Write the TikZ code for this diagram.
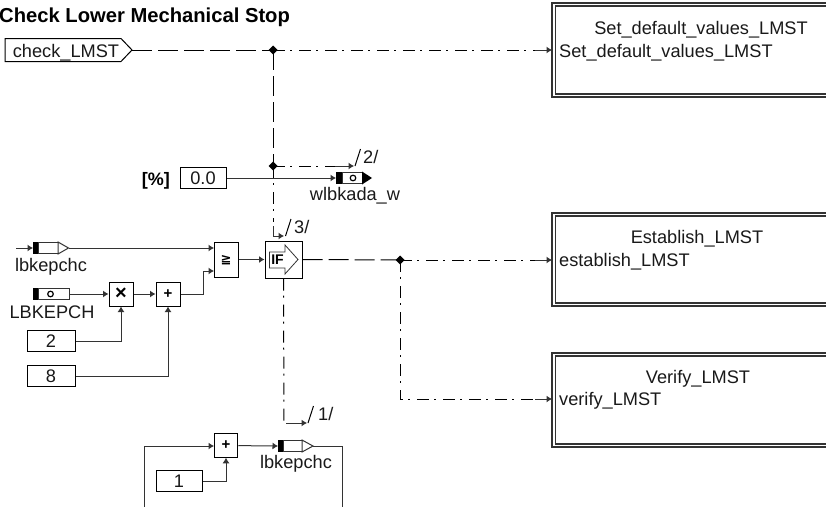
\documentclass[tikz,border=0pt]{standalone}
\usepackage{fontspec}
\setmainfont{Liberation Sans}
\newfontfamily\symfont{DejaVu Sans}
\usetikzlibrary{arrows.meta}
\definecolor{ln}{gray}{0.2}
\tikzset{
 x=1pt,y=-1pt,
 wire/.style={draw=ln,line width=1pt},
 dd/.style={draw=black,line width=1pt,dash pattern=on 12pt off 5pt on 2pt off 7pt},
 ddl/.style={draw=black,line width=1pt,dash pattern=on 20pt off 6pt},
 arr/.style={-{Latex[length=5.5pt,width=7pt]}},
 lbl/.style={inner sep=0pt,font=\fontsize{18.2}{18}\selectfont,text=black!90},
 bld/.style={inner sep=0pt,font=\fontsize{18}{18}\selectfont\bfseries},
 blockbox/.style={draw=black,line width=1pt,fill=white,inner sep=0pt},
 frameo/.style={draw=ln,line width=1.1pt},
}
\newcommand{\jct}[1]{\fill[black] (#1) ++(-4.5,0) -- ++(4.5,-4.5) -- ++(4.5,4.5) -- ++(-4.5,4.5) -- cycle;}
\newcommand{\flagr}[1]{\draw[line width=1pt,draw=black] (#1) -- ++(5.5,-17);}
\begin{document}
\begin{tikzpicture}
\useasboundingbox (0,0) rectangle (826,506);
\clip (0,0) rectangle (826,506);
% title
\node[anchor=base west,inner sep=0pt,font=\fontsize{20.2}{20}\selectfont\bfseries] (title) at (-1,22) {Check Lower Mechanical Stop};
% right frames
\foreach \n/\t/\b in {a/3/97,b/213/306,c/353/447}{
 \draw[frameo] (840,\t) -- (552,\t) -- (552,\b) -- (840,\b);
 \draw[frameo] (840,\t+3) -- (555.5,\t+3) -- (555.5,\b-3) -- (840,\b-3);
}
\coordinate (ina) at (552,50);
\coordinate (inb) at (552,260);
\coordinate (inc) at (552,399);
\node[lbl,anchor=base] (ta) at (701,34) {Set\_default\_values\_LMST};
\node[lbl,anchor=base west] (tb) at (559,57) {Set\_default\_values\_LMST};
\node[lbl,anchor=base] (tc) at (697,243) {Establish\_LMST};
\node[lbl,anchor=base west] (td) at (559,266) {establish\_LMST};
\node[lbl,anchor=base] (te) at (698,383) {Verify\_LMST};
\node[lbl,anchor=base west] (tf) at (559,405) {verify\_LMST};
% check_LMST
\draw[blockbox] (5,38.5) -- (121,38.5) -- (132,50) -- (121,61.5) -- (5,61.5) -- cycle;
\node[lbl,anchor=base] (chk) at (66,57) {check\_LMST};
\coordinate (cko) at (132,50);
\coordinate (j1) at (273,50);
\coordinate (j2) at (273,166);
\coordinate (j3) at (400,260);
\draw[ddl] (cko) -- (j1);
\draw[dd] (j1) -- (535,50);
\draw[wire,arr] (535,50) -- (ina);
\draw[ddl] (j1) -- (j2);
\coordinate (f2) at (354,166);
\draw[dd] (j2) -- (335,166);
\draw[wire,arr] (335,166) -- (f2);
\coordinate (f3) at (284,236);
\draw[dd] (j2) -- (273,222);
\draw[wire,arr] (273,226) -- (273,236) -- (f3);
\jct{j1}\jct{j2}
\flagr{355,166}
\node[lbl,anchor=base west] (n2) at (363,163) {2/};
\flagr{285.5,236}
\node[lbl,anchor=base west] (n3) at (294,233) {3/};
% const 0.0
\node[bld,anchor=base east] (pc) at (170,185) {[\%]};
\node[blockbox,minimum width=46pt,minimum height=21pt] (k0) at (203,178) {};
\node[lbl,anchor=base] (k0t) at (203,184.5) {0.0};
\draw[wire,arr] (k0) -- (336,178);
\fill[black] (336,172) rectangle (342,184);
\draw[line width=1pt,draw=ln,fill=white] (342,172.5) rectangle (362,183.5);
\fill[black] (362,171.5) -- (372,178) -- (362,184.5) -- cycle;
\draw[black,line width=1.2pt] (353,178) circle (2.8pt);
\node[lbl,anchor=base] (wl) at (355,200.5) {wlbkada\_w};
% lbkepchc input
\coordinate (lb0) at (16,248);
\draw[wire,arr] (lb0) -- (33,248);
\fill[black] (33,242) rectangle (38,254);
\draw[line width=1pt,draw=ln,fill=white] (38,242.5) rectangle (58,253.5);
\draw[line width=1pt,draw=ln,fill=white] (58,242) -- (68.5,248) -- (58,254) -- cycle;
\node[lbl,anchor=base] (lb) at (51,271) {lbkepchc};
\coordinate (lbo) at (68.5,248);
% ge block
\node[blockbox,minimum width=24pt,minimum height=35pt] (ge) at (226,259.5) {};
\node[inner sep=0pt,font=\fontsize{13}{13}\selectfont\symfont\bfseries] (get) at (226,260.5) {≧};
\draw[wire,arr] (lbo) -- (214,248);
% LBKEPCH
\fill[black] (33,288) rectangle (38,300);
\draw[line width=1pt,draw=ln,fill=white] (38,288.5) rectangle (69,299.5);
\draw[black,line width=1.2pt] (50.5,294) circle (2.8pt);
\node[lbl,anchor=base] (lc) at (52,318) {LBKEPCH};
\node[blockbox,minimum size=24pt] (mul) at (121,294) {};
\node[inner sep=0pt,font=\fontsize{20}{20}\selectfont\bfseries] (mult) at (121,294) {×};
\node[blockbox,minimum size=24pt] (add) at (168,294) {};
\node[inner sep=0pt,font=\fontsize{15}{15}\selectfont\bfseries] (addt) at (168,294) {+};
\draw[wire,arr] (69,294) -- (mul);
\draw[wire,arr] (mul) -- (add);
\draw[wire,arr] (add) -- (203,294) -- (203,271) -- (214,271);
\node[blockbox,minimum width=48pt,minimum height=21pt] (k2) at (51,341) {};
\node[lbl,anchor=base] (k2t) at (51,347.5) {2};
\node[blockbox,minimum width=48pt,minimum height=21pt] (k8) at (51,376) {};
\node[lbl,anchor=base] (k8t) at (51,382.5) {8};
\draw[wire,arr] (k2) -- (121,341) -- (mul);
\draw[wire,arr] (k8) -- (168,376) -- (add);
% IF
\node[blockbox,minimum size=37pt] (if) at (283.5,259.5) {};
\draw[line width=0.8pt,draw=ln] (269.5,252) -- (285,252) -- (285,245) -- (298,259.5) -- (285,274) -- (285,268) -- (269.5,268) -- cycle;
\node[inner sep=0pt,font=\fontsize{14}{14}\selectfont\bfseries] (ift) at (277.5,260) {IF};
\draw[wire,arr] (ge.east) -- (if.west);
\draw[ddl] (if.east) -- (j3);
\draw[dd] (j3) -- (535,260);
\draw[wire,arr] (535,260) -- (inb);
\draw[dd] (j3) -- (400,399) -- (535,399);
\draw[wire,arr] (535,399) -- (inc);
\jct{j3}
\coordinate (f1) at (307,423);
\draw[dd] (if.south) -- (284,423);
\draw[wire,arr] (286,423) -- (f1);
\flagr{308,423}
\node[lbl,anchor=base west] (n1) at (318,420) {1/};
% bottom loop
\node[blockbox,minimum size=23.5pt] (add2) at (226,445.5) {};
\node[inner sep=0pt,font=\fontsize{15}{15}\selectfont\bfseries] (add2t) at (226,445.5) {+};
\node[blockbox,minimum width=46pt,minimum height=21pt] (k1) at (179,481) {};
\node[lbl,anchor=base] (k1t) at (179,487.5) {1};
\draw[wire,arr] (k1) -- (226,481) -- (add2);
\draw[wire,arr] (144,510) -- (144,446) -- (214,446);
\draw[wire,arr] (add2) -- (278,446);
\fill[black] (278,440) rectangle (283,452);
\draw[line width=1pt,draw=ln,fill=white] (283,440.5) rectangle (302,451.5);
\draw[line width=1pt,draw=ln,fill=white] (302,440) -- (313,446) -- (302,452) -- cycle;
\node[lbl,anchor=base] (lb2) at (296,468) {lbkepchc};
\draw[wire] (313,446) -- (342,446) -- (342,510);
\end{tikzpicture}
\end{document}
